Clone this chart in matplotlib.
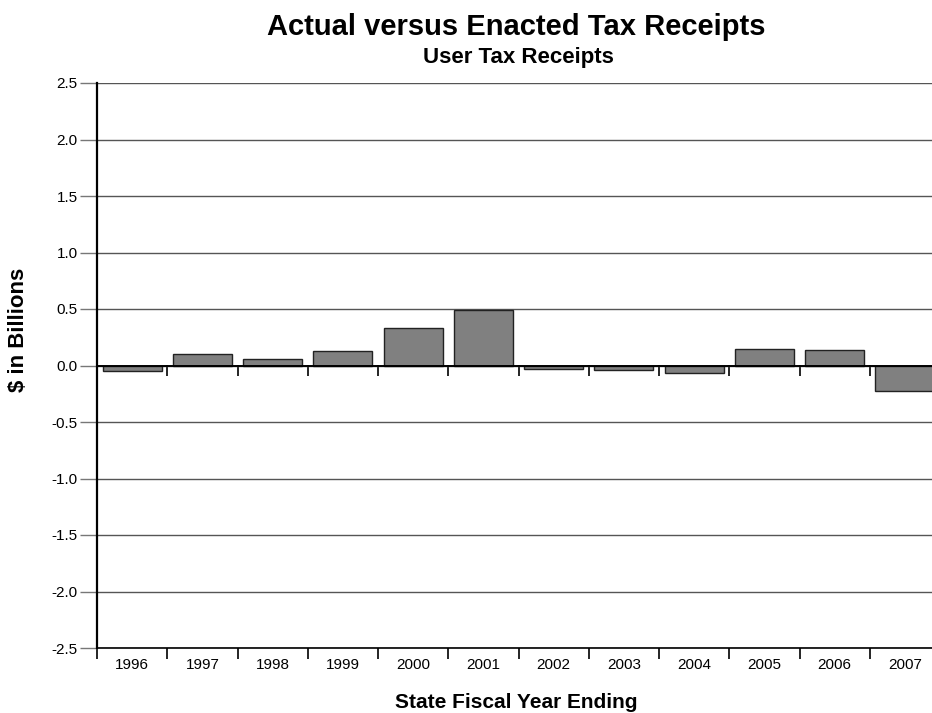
import matplotlib
matplotlib.use("Agg")
import matplotlib.pyplot as plt
import numpy as np

years = ["1996", "1997", "1998", "1999", "2000", "2001",
         "2002", "2003", "2004", "2005", "2006", "2007"]
values = [-0.05, 0.10, 0.06, 0.13, 0.33, 0.49,
          -0.03, -0.04, -0.07, 0.15, 0.14, -0.23]
y_ticks = [-2.5, -2.0, -1.5, -1.0, -0.5, 0.0, 0.5, 1.0, 1.5, 2.0, 2.5]

plt.rcParams["font.family"] = ["Liberation Sans", "DejaVu Sans"]

W, H = 932, 713
fig = plt.figure(figsize=(W / 100, H / 100), dpi=100)
ax = fig.add_axes([97 / W, 1 - 648 / H, (940 - 97) / W, (648 - 83) / H])

x = np.arange(len(years))
ax.bar(x, values, width=0.84, color="#808080", edgecolor="#222222",
       linewidth=1.0, zorder=3)

ax.set_xlim(-0.5, len(years) - 0.5)
ax.set_ylim(y_ticks[0], y_ticks[-1])

# horizontal grid
ax.set_yticks(y_ticks)
ax.set_yticklabels([f"{v:.1f}" for v in y_ticks], fontsize=11)
ax.yaxis.grid(True, color="#555555", linewidth=1.0, zorder=1)
ax.tick_params(axis="y", length=12, width=1, color="#777777", pad=2)

# categories: labels centered, tick marks on the boundaries
boundaries = np.arange(len(years) + 1) - 0.5
ax.set_xticks(boundaries)
ax.set_xticklabels([])
ax.set_xticks(x, minor=True)
ax.set_xticklabels(years, minor=True, fontsize=11)
ax.tick_params(axis="x", which="major", length=8, width=1.2, color="black")
ax.tick_params(axis="x", which="minor", length=0, pad=7)

for side in ("top", "right"):
    ax.spines[side].set_visible(False)
ax.spines["left"].set_linewidth(1.6)
ax.spines["bottom"].set_linewidth(1.2)

# zero baseline with boundary ticks hanging below it
ax.axhline(0, color="black", linewidth=1.4, zorder=4)
zero_frac = (0 - y_ticks[0]) / (y_ticks[-1] - y_ticks[0])
sec = ax.secondary_xaxis(zero_frac)
sec.set_xticks(boundaries[1:])
sec.set_xticklabels([])
sec.tick_params(axis="x", direction="in", length=8, width=1.2, color="black")
sec.spines["bottom"].set_visible(False)
sec.spines["top"].set_visible(False)

fig.text(516 / W, 1 - 27 / H, "Actual versus Enacted Tax Receipts",
         ha="center", va="center", fontsize=21, fontweight="bold")
fig.text(518 / W, 1 - 57 / H, "User Tax Receipts",
         ha="center", va="center", fontsize=16, fontweight="bold")
fig.text(19 / W, 1 - 330 / H, "$ in Billions", rotation=90,
         ha="center", va="center", fontsize=16, fontweight="bold")
fig.text(516 / W, 1 - 703 / H, "State Fiscal Year Ending",
         ha="center", va="center", fontsize=15, fontweight="bold")

fig.savefig("out.png", dpi=100)
